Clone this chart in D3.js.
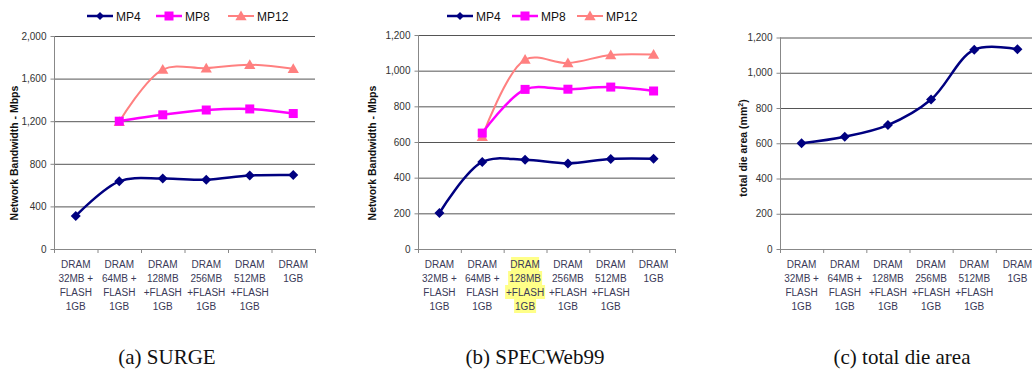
<!DOCTYPE html>
<meta charset="utf-8">
<style>
  body { margin: 0; background: #fff; }
  svg { display: block; font-family: Arial, "Liberation Sans", sans-serif; }
  .caption { font-family: "Liberation Serif", "DejaVu Serif", serif; font-size: 21px; fill: #111; }
</style>
<body>
<script src="https://d3js.org/d3.v7.min.js"></script>
<div id="chart"></div>
<script>
  // category labels (one entry per line of the label)
  const categories = [
    ["DRAM", "32MB +", "FLASH", "1GB"],
    ["DRAM", "64MB +", "FLASH", "1GB"],
    ["DRAM", "128MB", "+FLASH", "1GB"],
    ["DRAM", "256MB", "+FLASH", "1GB"],
    ["DRAM", "512MB", "+FLASH", "1GB"],
    ["DRAM", "1GB"]
  ];
  const seriesNames = ["MP4", "MP8", "MP12"];

  // (a) SURGE
  const surgeMP4  = [310, 635, 662, 650, 690, 695];
  const surgeMP8  = [null, 1200, 1260, 1305, 1315, 1272];
  const surgeMP12 = [null, 1195, 1685, 1698, 1730, 1692];
  const surgeTicks = [0, 400, 800, 1200, 1600, 2000];

  // (b) SPECWeb99
  const specMP4  = [202, 488, 500, 480, 505, 506];
  const specMP8  = [null, 650, 895, 896, 908, 886];
  const specMP12 = [null, 630, 1062, 1043, 1088, 1090];
  const specTicks = [0, 200, 400, 600, 800, 1000, 1200];

  // (c) total die area
  const dieArea = [600, 637, 703, 848, 1131, 1133];
  const dieTicks = [0, 200, 400, 600, 800, 1000, 1200];

  const captions = ["(a) SURGE", "(b) SPECWeb99", "(c) total die area"];

  const colors = { MP4: "#000080", MP8: "#ff00ff", MP12: "#ff8080" };
  const widths = { MP4: 2.5, MP8: 2.5, MP12: 2 };

  const svg = d3.select("#chart").append("svg")
    .attr("width", 1032)
    .attr("height", 374);

  function marker(g, name, x, y, r) {
    if (name === "MP4") {
      const h = r || 5;
      g.append("path").attr("d", `M${x},${y - h}L${x + h},${y}L${x},${y + h}L${x - h},${y}Z`)
        .attr("fill", colors.MP4);
    } else if (name === "MP8") {
      g.append("rect").attr("x", x - 4.5).attr("y", y - 4.5)
        .attr("width", 9).attr("height", 9).attr("fill", colors.MP8);
    } else {
      g.append("path").attr("d", d3.symbol(d3.symbolTriangle, 55)())
        .attr("transform", `translate(${x},${y + 1})`).attr("fill", colors.MP12);
    }
  }

  function panel(opts) {
    const { left, right, top, bottom, ticks, series, title, highlight, legendX } = opts;
    const g = svg.append("g");

    const x = d3.scaleBand().domain(d3.range(categories.length)).range([left, right]);
    const y = d3.scaleLinear().domain([0, d3.max(ticks)]).range([bottom, top]);

    // gridlines
    g.append("g").selectAll("line")
      .data(ticks.filter(t => t > 0))
      .join("line")
      .attr("x1", left).attr("x2", right)
      .attr("y1", d => y(d) + 0.5).attr("y2", d => y(d) + 0.5)
      .attr("stroke", "#555").attr("stroke-width", 1);

    // y axis
    const ya = g.append("g").attr("transform", `translate(${left + 0.5},0)`)
      .call(d3.axisLeft(y).tickValues(ticks).tickFormat(d3.format(",")).tickSize(4).tickPadding(4));
    ya.select(".domain").attr("stroke", "#888").attr("d", `M0,${bottom}V${top}`);
    ya.selectAll(".tick line").attr("stroke", "#888");
    ya.selectAll(".tick text").attr("font-size", 10).attr("fill", "#333").attr("font-family", null);

    // x axis
    g.append("line").attr("x1", left).attr("x2", right)
      .attr("y1", bottom + 0.5).attr("y2", bottom + 0.5).attr("stroke", "#888");
    g.append("g").selectAll("line")
      .data(d3.range(categories.length + 1))
      .join("line")
      .attr("x1", d => (d < categories.length ? x(d) : right) + 0.5)
      .attr("x2", d => (d < categories.length ? x(d) : right) + 0.5)
      .attr("y1", bottom).attr("y2", bottom + 4)
      .attr("stroke", "#888");

    // category labels
    categories.forEach((lines, i) => {
      const cx = x(i) + x.bandwidth() / 2;
      lines.forEach((t, j) => {
        const ty = bottom + 19 + j * 14;
        if (highlight === i) {
          const w = t.length * 6 + 4;
          g.append("rect").attr("x", cx - w / 2).attr("y", ty - 11)
            .attr("width", w).attr("height", 14).attr("fill", "#ffff88");
        }
        g.append("text").attr("x", cx).attr("y", ty)
          .attr("text-anchor", "middle").attr("font-size", 10).attr("fill", "#3a3a58")
          .text(t);
      });
    });

    // y title
    g.append("text")
      .attr("transform", `translate(${opts.titleX},${opts.titleY}) rotate(-90)`)
      .attr("text-anchor", "middle").attr("font-size", 10.5).attr("font-weight", "bold")
      .attr("fill", "#111")
      .call(t => {
        if (title === "die") {
          t.append("tspan").text("total die area (mm");
          t.append("tspan").attr("font-size", 7).attr("dy", -4).text("2");
          t.append("tspan").attr("dy", 4).text(")");
        } else {
          t.text(title);
        }
      });

    // series
    const line = d3.line()
      .defined(d => d.v != null)
      .x(d => x(d.i) + x.bandwidth() / 2)
      .y(d => y(d.v))
      .curve(d3.curveCatmullRom.alpha(0.5));

    series.slice().reverse().forEach(s => {
      const pts = s.values.map((v, i) => ({ i, v }));
      g.append("path").datum(pts).attr("d", line)
        .attr("fill", "none").attr("stroke", colors[s.name])
        .attr("stroke-width", widths[s.name]);
      const mg = g.append("g");
      pts.filter(p => p.v != null).forEach(p =>
        marker(mg, s.name, x(p.i) + x.bandwidth() / 2, y(p.v)));
    });

    // legend
    if (legendX) {
      const lg = g.append("g");
      seriesNames.forEach((n, k) => {
        const lx = legendX[k];
        lg.append("line").attr("x1", lx).attr("x2", lx + 26)
          .attr("y1", 16).attr("y2", 16)
          .attr("stroke", colors[n]).attr("stroke-width", widths[n]);
        marker(lg, n, lx + 13, 16, 4);
        lg.append("text").attr("x", lx + 29).attr("y", 20.5)
          .attr("font-size", 12).attr("fill", "#111").text(n);
      });
    }
  }

  panel({
    left: 54, right: 315, top: 36, bottom: 249, ticks: surgeTicks,
    series: [{ name: "MP4", values: surgeMP4 }, { name: "MP8", values: surgeMP8 }, { name: "MP12", values: surgeMP12 }],
    title: "Network Bandwidth - Mbps", titleX: 18, titleY: 153,
    legendX: [87, 156, 228]
  });

  panel({
    left: 418, right: 675, top: 35, bottom: 249, ticks: specTicks,
    series: [{ name: "MP4", values: specMP4 }, { name: "MP8", values: specMP8 }, { name: "MP12", values: specMP12 }],
    title: "Network Bandwidth - Mbps", titleX: 376, titleY: 153,
    highlight: 2,
    legendX: [447, 512, 577]
  });

  panel({
    left: 780, right: 1039, top: 37.5, bottom: 249, ticks: dieTicks,
    series: [{ name: "MP4", values: dieArea }],
    title: "die", titleX: 747, titleY: 148
  });

  svg.selectAll(".caption")
    .data(captions)
    .join("text")
    .attr("class", "caption")
    .attr("x", (d, i) => [167, 535, 902][i])
    .attr("y", 364)
    .attr("text-anchor", "middle")
    .text(d => d);
</script>
</body>
